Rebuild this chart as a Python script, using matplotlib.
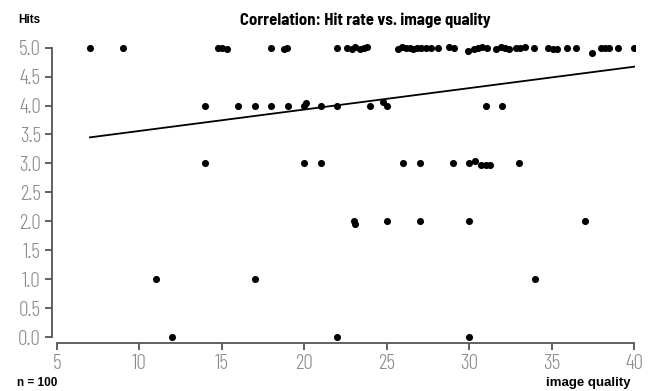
import matplotlib
matplotlib.use("Agg")
import matplotlib.pyplot as plt
import numpy as np

# hits = 5
x5 = [7.0, 9.0, 14.75, 15.0, 15.3, 18.0, 18.75, 18.95,
      22.0, 22.6, 22.9, 23.1, 23.35, 23.6, 23.8,
      25.65, 25.9, 26.15, 26.4, 26.6, 26.85, 27.1, 27.4, 27.7, 28.1,
      28.8, 29.1, 29.9, 30.3, 30.55, 30.8, 31.05,
      31.65, 31.9, 32.15, 32.4, 32.85, 33.1, 33.35, 33.95,
      34.75, 35.05, 35.35, 35.95, 36.5, 37.45, 38.0, 38.25, 38.5, 39.0, 40.0]
y5 = [5.0, 5.0, 5.0, 5.0, 4.97, 5.0, 4.98, 5.0,
      5.0, 4.99, 4.98, 5.01, 4.98, 4.99, 5.01,
      4.98, 5.01, 4.99, 5.0, 4.98, 5.0, 4.99, 5.0, 4.99, 5.0,
      5.01, 4.99, 4.94, 4.98, 5.0, 5.01, 5.0,
      4.98, 5.01, 4.99, 4.97, 5.0, 4.99, 5.01, 5.0,
      5.0, 4.98, 4.97, 5.0, 5.0, 4.91, 4.99, 5.0, 5.0, 5.0, 5.0]
# hits = 4
x4 = [14.0, 16.0, 17.0, 18.0, 19.0, 20.0, 20.1, 21.0, 22.0, 24.0, 24.8, 25.0, 31.0, 32.0]
y4 = [4.0, 4.0, 4.0, 4.0, 4.0, 4.0, 4.04, 4.0, 4.0, 4.0, 4.06, 4.0, 4.0, 4.0]
# hits = 3
x3 = [14.0, 20.0, 21.0, 26.0, 27.0, 29.0, 30.0, 30.35, 30.7, 31.0, 31.25, 33.0]
y3 = [3.0, 3.0, 3.0, 3.0, 3.0, 3.0, 3.0, 3.05, 2.98, 2.98, 2.98, 3.0]
# hits = 2, 1, 0
x2 = [23.0, 23.1, 25.0, 27.0, 30.0, 37.0]
y2 = [2.0, 1.95, 2.0, 2.0, 2.0, 2.0]
x1 = [11.0, 17.0, 34.0]
y1 = [1.0, 1.0, 1.0]
x0 = [12.0, 22.0, 30.0]
y0 = [0.0, 0.0, 0.0]

# regression line
fit_x = [7.0, 40.0]
fit_y = [3.45, 4.67]

xticks = [5, 10, 15, 20, 25, 30, 35, 40]
yticks = [0.0, 0.5, 1.0, 1.5, 2.0, 2.5, 3.0, 3.5, 4.0, 4.5, 5.0]

thin = ["Barlow Condensed", "Liberation Sans", "DejaVu Sans"]
semi = ["Barlow Semi Condensed", "Liberation Sans", "DejaVu Sans"]
wide = ["Liberation Sans", "DejaVu Sans"]

fig = plt.figure(figsize=(6.5, 3.91), dpi=100)
ax = fig.add_axes([52 / 650, 1 - 343 / 391, (635 - 52) / 650, (343 - 36) / 391])

xs = x5 + x4 + x3 + x2 + x1 + x0
ys = y5 + y4 + y3 + y2 + y1 + y0
ax.scatter(xs, ys, s=26, color="black", zorder=3, linewidths=0)
ax.plot(fit_x, fit_y, color="black", linewidth=1.3)

ax.set_xlim(4.70, 40.05)
ax.set_ylim(-0.10, 5.2)
ax.set_xticks(xticks)
ax.set_yticks(yticks)
ax.set_xticklabels([str(t) for t in xticks])
ax.set_yticklabels(["%.1f" % t for t in yticks])
for lab in ax.get_xticklabels() + ax.get_yticklabels():
    lab.set_family(thin)
    lab.set_fontweight(300)
    lab.set_fontsize(15.5)
    lab.set_color("#8c8c8c")

ax.spines["top"].set_visible(False)
ax.spines["right"].set_visible(False)
ax.spines["left"].set_bounds(0, 5)
ax.spines["bottom"].set_bounds(5, 40)
for s in ["left", "bottom"]:
    ax.spines[s].set_color("#555555")
    ax.spines[s].set_linewidth(1.3)
ax.tick_params(axis="both", direction="out", length=5, width=1.3, color="#555555", pad=3)

fig.text(365 / 650, 1 - 20 / 391, "Correlation: Hit rate vs. image quality",
         ha="center", va="center", fontsize=12, fontweight="bold", family=semi)
fig.text(18 / 650, 1 - 20 / 391, "Hits", ha="left", va="center",
         fontsize=8.5, fontweight="bold", family=wide)
fig.text(17 / 650, 1 - 383 / 391, "n = 100", ha="left", va="center",
         fontsize=8.5, fontweight="bold", family=wide)
fig.text(631 / 650, 1 - 383 / 391, "image quality", ha="right", va="center",
         fontsize=9.5, fontweight="bold", family=wide)

plt.savefig("out.png", dpi=100)
